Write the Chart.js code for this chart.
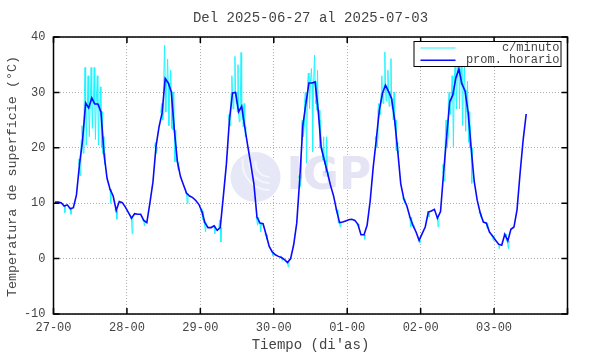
<!DOCTYPE html>
<html>
<head>
<meta charset="utf-8">
<script src="https://cdn.jsdelivr.net/npm/chart.js@4"></script>
<style>
  html, body { margin: 0; padding: 0; background: #fff; }
  #wrap { width: 590px; height: 354px; }
</style>
</head>
<body>
<div id="wrap"><canvas id="chart" width="590" height="354"></canvas></div>
<script>
// tick labels (one per day, x in hours since 27-00)
const dayLabels = ['27-00', '28-00', '29-00', '30-00', '01-00', '02-00', '03-00'];
const yTicks = [-10, 0, 10, 20, 30, 40];

// hourly mean ("prom. horario"), one value per hour starting 27-00
const hourly = [
  10.2, 10.2, 10.1, 9.5, 9.7, 9.0, 9.2, 11.5, 17.0, 21.4, 28.1, 27.2, 29.0, 27.9, 27.9, 26.5, 19.0, 14.5, 12.5, 11.3, 8.7, 10.3, 10.1, 9.3,
  8.3, 7.3, 8.1, 8.0, 8.0, 6.9, 6.5, 10.0, 13.8, 20.2, 23.8, 26.3, 32.5, 31.7, 30.1, 23.2, 17.5, 14.8, 13.3, 11.8, 11.3, 11.0, 10.5, 9.8,
  8.5, 6.5, 5.6, 5.6, 5.9, 5.1, 5.6, 11.2, 17.0, 25.0, 29.9, 30.0, 26.5, 27.5, 23.8, 20.3, 17.0, 13.5, 7.5, 6.4, 6.3, 4.3, 2.2, 1.2,
  0.7, 0.4, 0.2, -0.2, -0.7, 0.0, 2.5, 6.4, 14.5, 24.0, 28.0, 31.7, 31.7, 31.9, 26.8, 20.0, 17.8, 15.6, 13.3, 11.4, 8.8, 6.5, 6.6, 6.8,
  7.0, 7.1, 6.9, 6.2, 4.3, 4.3, 6.0, 10.4, 16.5, 21.5, 26.8, 29.8, 31.3, 30.2, 28.9, 25.0, 19.5, 13.5, 10.8, 9.5, 7.5, 6.0, 4.8, 3.3,
  4.5, 5.7, 8.4, 8.6, 8.9, 7.3, 8.5, 15.5, 22.0, 28.3, 29.5, 32.6, 34.2, 31.5, 30.3, 26.5, 20.0, 14.0, 10.5, 8.2, 6.6, 6.4, 4.8, 4.1,
  3.3, 2.6, 2.4, 4.4, 3.2, 5.3, 5.7, 8.8, 15.4, 21.4, 26.1
];

// per-minute readings ("c/minuto"): hours where they stray from the mean, with the highest and lowest reading
const cyanHours = [3, 5, 8, 9, 10, 11, 12, 13, 14, 15, 16, 18, 20, 25, 29,
  33, 35, 36, 37, 38, 39, 40, 43, 48, 49, 52, 54,
  57, 58, 59, 60, 61, 62, 66, 67, 69, 71, 74, 76,
  80, 81, 82, 83, 84, 85, 86, 87, 88, 89, 92, 93, 99, 101,
  105, 106, 107, 108, 109, 110, 111, 112, 114, 116, 117, 119, 122, 125,
  127, 128, 129, 130, 131, 132, 133, 134, 135, 136, 139, 141, 143, 145, 147, 148];
const cyanHi = [9.6, 9.2, 18, 24, 34.5, 33, 34.5, 34.5, 33, 31, 22, 12.5, 9, 7.4, 7,
  21, 28, 38.5, 36, 34, 30, 18, 12, 9, 6.5, 6, 7,
  26, 33, 36.5, 35, 37.2, 28, 7.5, 6.5, 4.5, 1.3, 0.5, -0.5,
  15, 25, 30, 33.5, 34.3, 36.7, 34, 25, 22, 22, 9, 6.6, 6.3, 4.4,
  22, 28, 33, 37.3, 34, 36.1, 30, 21, 11, 7.6, 6.1, 3.4, 8.5, 7.4,
  17, 25, 30, 33, 36.5, 38.3, 37.5, 35, 32, 24, 8.5, 6.6, 4.2, 2.7, 4.5, 3.2];
const cyanLo = [8.3, 8.0, 15, 19, 20.5, 22, 23.5, 21.5, 20.5, 20, 17, 10, 7.1, 4.5, 5.9,
  19, 25, 26.5, 24, 23.5, 17.5, 16, 10, 7, 4.8, 4.5, 3.0,
  24, 27, 28, 24.7, 25, 22, 6, 4.8, 3.5, 0.5, -0.3, -1.5,
  13, 22, 17.2, 27, 19.3, 28, 26, 20, 17, 14.8, 8, 5.7, 5.5, 3.5,
  20, 26, 28, 28.5, 27.5, 27, 24, 19, 10, 5.7, 5.5, 2.8, 7.5, 5.7,
  14, 20, 26, 20.2, 27, 27, 24, 23, 21, 13.6, 7.5, 5.5, 3.3, 1.8, 3.8, 1.8];

const hourlyPts = hourly.map((v, i) => ({ x: i + 0.5, y: v }));
// minute trace: spikes up to the hour's max and down to its min, returning to the hour's mean between them
const minutePts = [];
cyanHours.forEach((h, i) => {
  if (i > 0 && h !== cyanHours[i - 1] + 1) minutePts.push({ x: h, y: null });
  minutePts.push({ x: h + 0.05, y: hourly[h] });
  minutePts.push({ x: h + 0.3, y: cyanHi[i] });
  minutePts.push({ x: h + 0.5, y: hourly[h] });
  minutePts.push({ x: h + 0.7, y: cyanLo[i] });
  minutePts.push({ x: h + 0.95, y: hourly[h] });
});

const MONO = '"Liberation Mono", "DejaVu Sans Mono", monospace';
const TXT = '#444';

// frame, inward ticks, titles, legend and the faint logo
const decor = {
  id: 'decor',
  beforeDatasetsDraw(chart) {
    const { ctx, chartArea: a } = chart;
    ctx.save();
    const cx = a.left + 202, cy = a.top + 140;
    ctx.fillStyle = '#e6e8f7';
    ctx.beginPath(); ctx.arc(cx, cy, 25, 0, Math.PI * 2); ctx.fill();
    ctx.strokeStyle = '#f5f6fc'; ctx.lineWidth = 2;
    [14, 20, 27].forEach(r => {
      ctx.beginPath(); ctx.arc(cx + 14, cy - 14, r, Math.PI * 0.5, Math.PI * 1.05); ctx.stroke();
    });
    ctx.fillStyle = '#e4e4f5';
    ctx.font = 'bold 44px "DejaVu Sans", sans-serif';
    ctx.textBaseline = 'middle';
    ctx.fillText('IGP', a.left + 233, cy + 1);
    ctx.restore();
  },
  afterDraw(chart) {
    const { ctx, chartArea: a, scales } = chart;
    ctx.save();
    ctx.strokeStyle = '#000';
    ctx.lineWidth = 1.5;
    ctx.strokeRect(a.left, a.top, a.right - a.left, a.bottom - a.top);
    ctx.beginPath();
    scales.x.ticks.forEach(t => {
      const px = scales.x.getPixelForValue(t.value);
      ctx.moveTo(px, a.bottom); ctx.lineTo(px, a.bottom - 6);
      ctx.moveTo(px, a.top); ctx.lineTo(px, a.top + 6);
    });
    scales.y.ticks.forEach(t => {
      const py = scales.y.getPixelForValue(t.value);
      ctx.moveTo(a.left, py); ctx.lineTo(a.left + 6, py);
      ctx.moveTo(a.right, py); ctx.lineTo(a.right - 6, py);
    });
    ctx.stroke();

    const mid = (a.left + a.right) / 2;
    ctx.fillStyle = TXT;
    ctx.textAlign = 'center';
    ctx.textBaseline = 'middle';
    ctx.font = '14px ' + MONO;
    ctx.fillText('Del 2025-06-27 al 2025-07-03', mid, 18);
    ctx.fillText("Tiempo (di'as)", mid, 345.5);
    ctx.save();
    ctx.translate(12, (a.top + a.bottom) / 2 + 1);
    ctx.rotate(-Math.PI / 2);
    ctx.font = '13.4px ' + MONO;
    ctx.fillText('Temperatura de superficie (°C)', 0, 0);
    ctx.restore();

    // legend
    const lx = a.left + 360, ly = a.top + 4;
    ctx.fillStyle = '#fff';
    ctx.fillRect(lx, ly, 147, 25);
    ctx.strokeStyle = '#000';
    ctx.lineWidth = 1;
    ctx.strokeRect(lx + 0.5, ly + 0.5, 147, 25);
    chart.data.datasets.slice().reverse().forEach((ds, i) => {
      const yy = ly + 7 + i * 12.3;
      ctx.strokeStyle = ds.borderColor;
      ctx.lineWidth = ds.borderWidth;
      ctx.beginPath(); ctx.moveTo(lx + 7, yy); ctx.lineTo(lx + 42, yy); ctx.stroke();
      ctx.fillStyle = TXT;
      ctx.textAlign = 'right';
      ctx.font = '12px ' + MONO;
      ctx.fillText(ds.label, lx + 146, yy);
    });
    ctx.restore();
  }
};

new Chart(document.getElementById('chart'), {
  type: 'line',
  data: {
    datasets: [
      {
        label: 'prom. horario',
        data: hourlyPts,
        borderColor: '#0a0aff',
        borderWidth: 1.6,
        pointRadius: 0,
        tension: 0,
        spanGaps: false
      },
      {
        label: 'c/minuto',
        data: minutePts,
        borderColor: '#22f4ff',
        borderWidth: 1,
        pointRadius: 0,
        tension: 0,
        spanGaps: false
      }
    ]
  },
  options: {
    responsive: false,
    animation: false,
    devicePixelRatio: 1,
    layout: { padding: { top: 37, right: 22.5, left: 0, bottom: 0 } },
    plugins: { legend: { display: false }, tooltip: { enabled: false } },
    scales: {
      x: {
        type: 'linear',
        min: 0,
        max: 168,
        afterBuildTicks: s => { s.ticks = [0, 24, 48, 72, 96, 120, 144, 168].map(v => ({ value: v })); },
        afterFit: s => { s.height = 40; },
        ticks: {
          callback: v => dayLabels[v / 24] || '',
          color: TXT,
          font: { family: MONO, size: 12 },
          maxRotation: 0,
          padding: 7
        },
        grid: { color: '#b0b0b0', lineWidth: 1, drawTicks: false },
        border: { display: false, dash: [1, 2] }
      },
      y: {
        min: -10,
        max: 40,
        afterBuildTicks: s => { s.ticks = yTicks.map(v => ({ value: v })); },
        afterFit: s => { s.width = 53.5; },
        ticks: {
          color: TXT,
          font: { family: MONO, size: 12 },
          padding: 8
        },
        grid: { color: '#b0b0b0', lineWidth: 1, drawTicks: false },
        border: { display: false, dash: [1, 2] }
      }
    }
  },
  plugins: [decor]
});
</script>
</body>
</html>
